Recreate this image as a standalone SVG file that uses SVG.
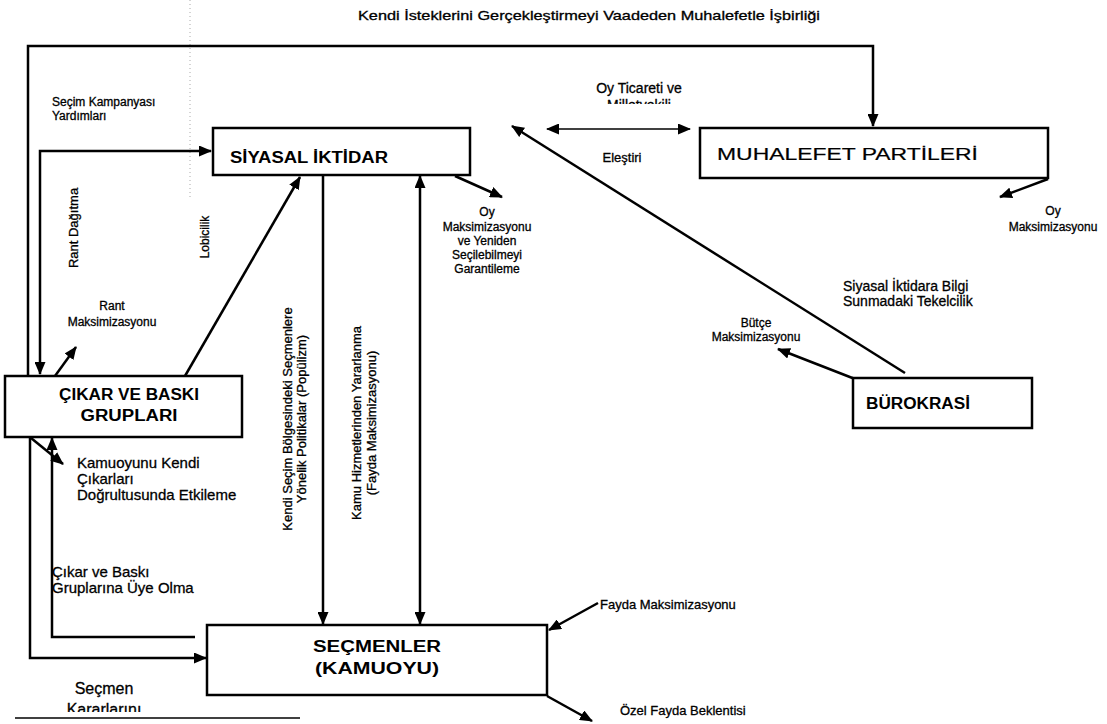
<svg xmlns="http://www.w3.org/2000/svg" width="1107" height="724" viewBox="0 0 1107 724">
  <style>
    .box { fill: #fff; stroke: #000; stroke-width: 2.5; }
    .ln { fill: none; stroke: #000; stroke-width: 2.5; }
    .thin { fill: none; stroke: #000; stroke-width: 1.5; }
    text { font-family: "Liberation Sans", Arial, sans-serif; fill: #000; stroke: #000; stroke-width: 0.3; }
    .t { font-size: 12px; }
    .s13 { font-size: 13px; }
    .s14 { font-size: 14px; }
    .s15 { font-size: 15px; }
    .s16 { font-size: 16px; }
    .h { font-size: 16px; font-weight: bold; stroke-width: 0; }
    .hn { font-size: 17px; stroke-width: 0.2; }
    .c { text-anchor: middle; }
  </style>
  <defs>
    <marker id="ah" viewBox="0 0 13 11" refX="12" refY="5.5" markerWidth="13" markerHeight="11" markerUnits="userSpaceOnUse" orient="auto-start-reverse">
      <path d="M0,0 L13,5.5 L0,11 Z" fill="#000"/>
    </marker>
    <clipPath id="clipMv"><rect x="560" y="90" width="140" height="14"/></clipPath>
    <clipPath id="clipKr"><rect x="40" y="697" width="140" height="15"/></clipPath>
  </defs>

  <rect width="1107" height="724" fill="#fff"/>
  <line x1="190" y1="0" x2="190" y2="200" stroke="#aaa" stroke-width="1" stroke-dasharray="1 3"/>

  <!-- connectors -->
  <g id="connectors">
    <path class="ln" d="M28,376 V46 H873 V126" marker-end="url(#ah)"/>
    <path class="ln" d="M40,374 V151 H211" marker-start="url(#ah)" marker-end="url(#ah)"/>
    <path class="ln" d="M55,376 L76,347" marker-end="url(#ah)"/>
    <path class="ln" d="M185,376 L300,177" marker-end="url(#ah)"/>
    <path class="ln" d="M323,176 V624" marker-end="url(#ah)"/>
    <path class="ln" d="M420,624 V176" marker-start="url(#ah)" marker-end="url(#ah)"/>
    <path class="ln" d="M455,176 L502,197" marker-end="url(#ah)"/>
    <path class="ln" d="M905,373 L512,126" marker-end="url(#ah)"/>
    <path class="ln" d="M855,379 L778,349" marker-end="url(#ah)"/>
    <path class="thin" d="M547,129 H690" marker-start="url(#ah)" marker-end="url(#ah)"/>
    <path class="ln" d="M1048,179 L1000,197" marker-end="url(#ah)"/>
    <path class="ln" d="M598,603 L549,630" marker-end="url(#ah)"/>
    <path class="ln" d="M547,696 L592,721" marker-end="url(#ah)"/>
    <path class="ln" d="M31,438 L63,464" marker-end="url(#ah)"/>
    <path class="ln" d="M195,637 H52 V438" marker-end="url(#ah)"/>
    <path class="ln" d="M30,438 V658 H206" marker-end="url(#ah)"/>
    <line x1="15" y1="718" x2="300" y2="718" stroke="#000" stroke-width="1.5"/>
  </g>

  <!-- nodes -->
  <g id="siyasal-iktidar">
    <rect class="box" x="213" y="128" width="257" height="47"/>
    <text class="h" x="230" y="163" textLength="158" lengthAdjust="spacingAndGlyphs">SİYASAL İKTİDAR</text>
  </g>
  <g id="muhalefet-partileri">
    <rect class="box" x="700" y="128" width="348" height="50"/>
    <text class="hn" x="717" y="160" textLength="261" lengthAdjust="spacingAndGlyphs">MUHALEFET PARTİLERİ</text>
  </g>
  <g id="cikar-ve-baski-gruplari">
    <rect class="box" x="5" y="376" width="237" height="61"/>
    <text class="h c" x="129" y="400" textLength="140" lengthAdjust="spacingAndGlyphs">ÇIKAR VE BASKI</text>
    <text class="h c" x="129" y="421" textLength="97" lengthAdjust="spacingAndGlyphs">GRUPLARI</text>
  </g>
  <g id="burokrasi">
    <rect class="box" x="853" y="378" width="179" height="50"/>
    <text class="h" x="866" y="409" textLength="104" lengthAdjust="spacingAndGlyphs">BÜROKRASİ</text>
  </g>
  <g id="secmenler">
    <rect class="box" x="207" y="625" width="340" height="70"/>
    <text class="h c" x="377" y="652" textLength="128" lengthAdjust="spacingAndGlyphs">SEÇMENLER</text>
    <text class="h c" x="377" y="674" textLength="124" lengthAdjust="spacingAndGlyphs">(KAMUOYU)</text>
  </g>

  <!-- connector labels -->
  <g id="labels">
    <text class="s13 c" x="589" y="20" textLength="462" lengthAdjust="spacingAndGlyphs">Kendi İsteklerini Gerçekleştirmeyi Vaadeden Muhalefetle İşbirliği</text>
    <text class="t" x="52" y="106">Seçim Kampanyası</text>
    <text class="t" x="52" y="120">Yardımları</text>
    <text class="s14 c" x="639" y="93">Oy Ticareti ve</text>
    <text class="s14 c" x="639" y="110" clip-path="url(#clipMv)">Milletvekili</text>
    <text class="s13 c" x="622" y="162">Eleştiri</text>
    <text class="t c" x="487" y="216">Oy</text>
    <text class="t c" x="487" y="231">Maksimizasyonu</text>
    <text class="t c" x="487" y="245">ve Yeniden</text>
    <text class="t c" x="487" y="259">Seçilebilmeyi</text>
    <text class="t c" x="487" y="273">Garantileme</text>
    <text class="t c" x="1053" y="215">Oy</text>
    <text class="t c" x="1053" y="231">Maksimizasyonu</text>
    <text class="s14" x="843" y="291">Siyasal İktidara Bilgi</text>
    <text class="s14" x="843" y="306">Sunmadaki Tekelcilik</text>
    <text class="t c" x="756" y="327">Bütçe</text>
    <text class="t c" x="756" y="341">Maksimizasyonu</text>
    <text class="s13 c" transform="translate(78,228) rotate(-90)">Rant Dağıtma</text>
    <text class="t c" x="112" y="310">Rant</text>
    <text class="t c" x="112" y="326">Maksimizasyonu</text>
    <text class="t c" transform="translate(209,237) rotate(-90)">Lobicilik</text>
    <text class="s13 c" transform="translate(292,419) rotate(-90)">Kendi Seçim Bölgesindeki Seçmenlere</text>
    <text class="s13 c" transform="translate(306,419) rotate(-90)">Yönelik Politikalar (Popülizm)</text>
    <text class="s13 c" transform="translate(361,423) rotate(-90)">Kamu Hizmetlerinden Yararlanma</text>
    <text class="s13 c" transform="translate(376,423) rotate(-90)">(Fayda Maksimizasyonu)</text>
    <text class="s15" x="77" y="468">Kamuoyunu Kendi</text>
    <text class="s15" x="77" y="484">Çıkarları</text>
    <text class="s15" x="77" y="500">Doğrultusunda Etkileme</text>
    <text class="s15" x="52" y="577">Çıkar ve Baskı</text>
    <text class="s15" x="52" y="593">Gruplarına Üye Olma</text>
    <text class="s13" x="600" y="609">Fayda Maksimizasyonu</text>
    <text class="s13" x="620" y="715">Özel Fayda Beklentisi</text>
    <text class="s16 c" x="104" y="694">Seçmen</text>
    <text class="s16 c" x="104" y="715" clip-path="url(#clipKr)">Kararlarını</text>
  </g>
</svg>
